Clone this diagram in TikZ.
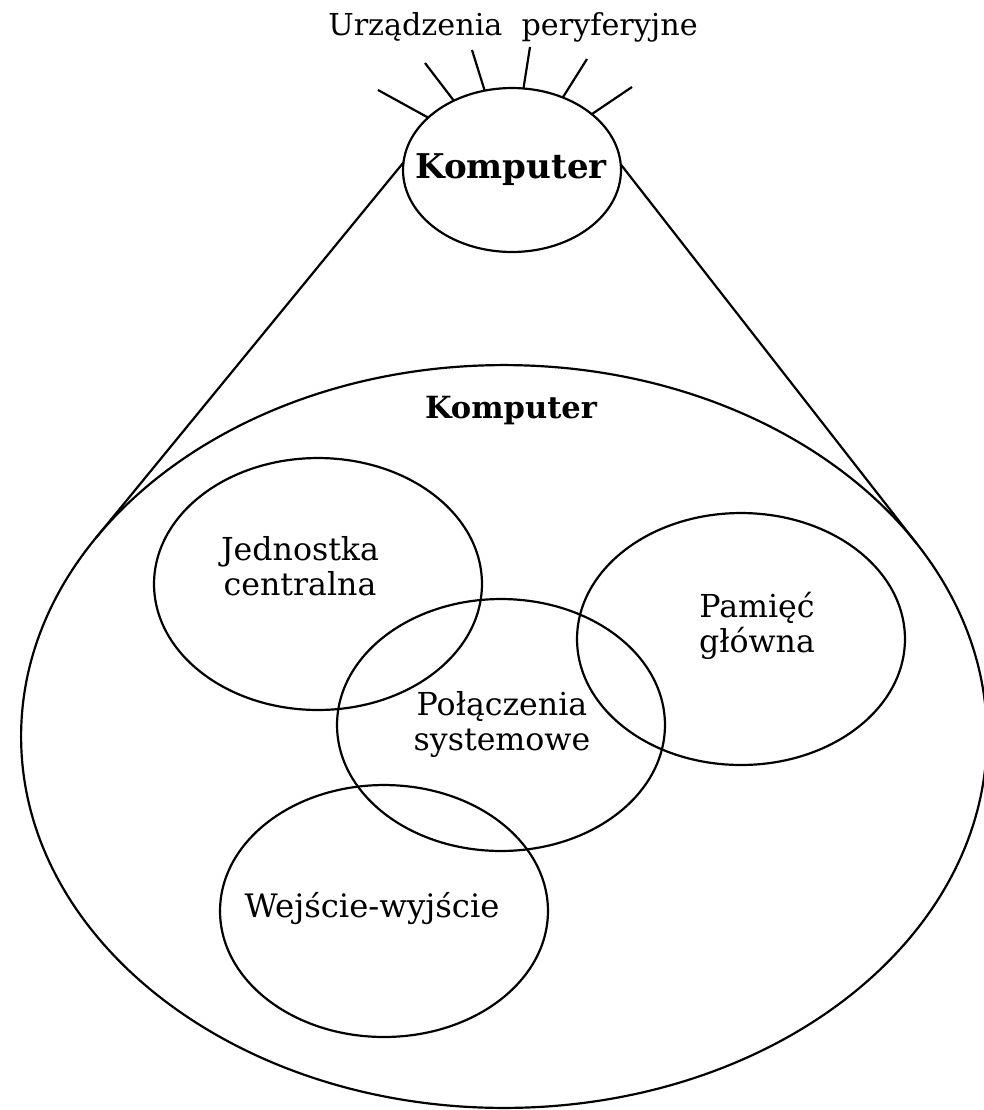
\documentclass[tikz,border=0pt]{standalone}
\usepackage{fontspec}
\setmainfont{DejaVu Serif}
\usetikzlibrary{shapes.geometric}
\begin{document}
\begin{tikzpicture}[x=0.02cm,y=-0.02cm,
  outline/.style={draw, ellipse, line width=1.25pt, inner sep=0pt, outer sep=0pt},
  part/.style={outline, minimum width=6.56cm, minimum height=5.04cm},
  partlabel/.style={font=\fontsize{18}{19.5}\selectfont, align=center, anchor=base},
  heading/.style={font=\fontsize{19.4}{22}\selectfont\bfseries, anchor=base},
  wire/.style={line width=1.25pt}]
\useasboundingbox (0,0) rectangle (984,1110);

% outer computer and its parts
\node[outline, minimum width=19.32cm, minimum height=14.86cm] (big) at (504,736.5) {};
\node[part] (cpu) at (318,584) {};
\node[part] (mem) at (741,639) {};
\node[part] (bus) at (501,725) {};
\node[part] (io)  at (384,911) {};

% small computer at the top
\node[outline, minimum width=4.36cm, minimum height=3.28cm] (small) at (512,170) {};

% peripheral rays
\coordinate (r1) at (378,90);
\coordinate (r2) at (425,63);
\coordinate (r3) at (472,50);
\coordinate (r4) at (530,47);
\coordinate (r5) at (587,59);
\coordinate (r6) at (632,87);
\draw[wire] (small.148.6) -- (r1);
\draw[wire] (small.130.7) -- (r2);
\draw[wire] (small.109.3) -- (r3);
\draw[wire] (small.82) -- (r4);
\draw[wire] (small.55.8) -- (r5);
\draw[wire] (small.35.1) -- (r6);

% zoom lines
\draw[wire] (small.176) -- (big.154);
\draw[wire] (small.3.7) -- (big.25);

% texts (base anchor sits on the last line)
\node[partlabel, font=\fontsize{17.2}{20}\selectfont] (periph) at (513,35) {Urządzenia\ \ peryferyjne};
\node[heading] (ktop) at (511,178) {Komputer};
\node[heading, font=\fontsize{17.4}{20}\selectfont\bfseries] (kbig) at (511,418) {Komputer};
\node[partlabel] (cpulab) at (300,595) {Jednostka\\centralna};
\node[partlabel] (memlab) at (757,652) {Pamięć\\główna};
\node[partlabel] (buslab) at (502,750) {Połączenia\\systemowe};
\node[partlabel, font=\fontsize{18.4}{20}\selectfont] (iolab) at (372,917) {Wejście-wyjście};
\end{tikzpicture}
\end{document}
